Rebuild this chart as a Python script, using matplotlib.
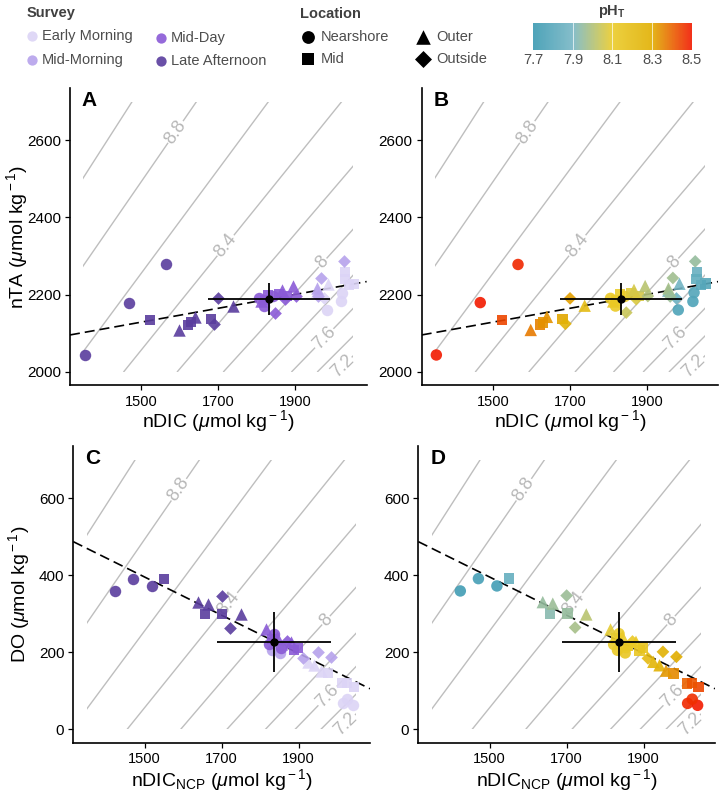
import numpy as np
import matplotlib
matplotlib.use('Agg')
import matplotlib.pyplot as plt
from matplotlib.colors import LinearSegmentedColormap, Normalize
from matplotlib.patches import Rectangle

plt.rcParams['font.family'] = ['Liberation Sans', 'DejaVu Sans']
plt.rcParams['mathtext.fontset'] = 'custom'
plt.rcParams['mathtext.rm'] = 'Liberation Sans'
plt.rcParams['mathtext.it'] = 'Liberation Sans:italic'
plt.rcParams['mathtext.bf'] = 'Liberation Sans:bold'

# survey colours / location shapes
surveys = ['Early Morning', 'Mid-Morning', 'Mid-Day', 'Late Afternoon']
survey_colors = ['#DCD4F6', '#B6A2EC', '#8A5AD6', '#5A3D9E']
locations = ['Nearshore', 'Mid', 'Outer', 'Outside']
loc_markers = ['o', 's', '^', 'D']
loc_sizes = [68, 58, 80, 42]

# pH colour scale
ph_ticks = [7.7, 7.9, 8.1, 8.3, 8.5]
ph_colors = ['#3B9AB2', '#78B7C5', '#EBCC2A', '#E1AF00', '#F21A00']

# panels A/B: survey, location, nDIC, nTA, pH
top_survey = [3, 3, 3, 3, 3, 3, 3, 3, 3, 3, 3, 3,
              2, 2, 2, 2, 2, 2, 2, 2, 2, 2, 2, 2, 2,
              1, 1, 1, 1,
              0, 0, 0, 0, 0, 0, 0, 0, 0, 0]
top_loc = [0, 0, 0, 1, 1, 1, 2, 2, 2, 3, 3, 1,
           0, 0, 0, 1, 1, 1, 2, 2, 2, 3, 3, 3, 1,
           3, 3, 2, 3,
           0, 0, 0, 1, 1, 1, 2, 2, 3, 1]
top_ndic = [1353, 1467, 1565, 1523, 1622, 1680, 1598, 1640, 1738, 1688, 1700, 1630,
            1805, 1818, 1842, 1830, 1858, 1878, 1812, 1866, 1895, 1846, 1902, 1872, 1820,
            1967, 2025, 1955, 1960,
            1981, 2019, 2022, 2030, 2040, 2052, 1984, 1955, 1975, 2028]
top_nta = [2043, 2179, 2278, 2134, 2122, 2136, 2108, 2142, 2171, 2124, 2190, 2128,
           2190, 2170, 2195, 2200, 2202, 2196, 2182, 2212, 2222, 2153, 2196, 2188, 2185,
           2243, 2286, 2218, 2195,
           2160, 2182, 2205, 2258, 2225, 2228, 2228, 2210, 2190, 2240]
top_ph = [8.50, 8.50, 8.48, 8.44, 8.36, 8.31, 8.37, 8.34, 8.21, 8.27, 8.32, 8.34,
          8.13, 8.12, 8.11, 8.10, 8.08, 8.06, 8.13, 8.06, 8.01, 8.04, 8.00, 8.07, 8.11,
          7.97, 7.95, 7.98, 7.96,
          7.76, 7.76, 7.78, 7.85, 7.80, 7.79, 7.88, 7.90, 7.86, 7.83]

# panels C/D: survey, location, nDIC_NCP, DO, colour value
bot_survey = [3, 3, 3, 3, 3, 3, 3, 3, 3, 3, 3,
              2, 2, 2, 2, 2, 2, 2, 2, 2, 2,
              1, 1, 1, 1, 1, 1,
              0, 0, 0, 0, 0, 0, 0, 0, 0, 0]
bot_loc = [0, 0, 0, 1, 1, 1, 2, 2, 2, 3, 3,
           2, 0, 2, 1, 0, 1, 3, 1, 0, 2,
           0, 0, 3, 3, 3, 1,
           2, 2, 1, 1, 1, 1, 0, 0, 0, 2]
bot_dic = [1424, 1471, 1519, 1550, 1657, 1702, 1638, 1664, 1751, 1700, 1722,
           1814, 1836, 1880, 1889, 1854, 1830, 1870, 1898, 1822, 1845,
           1832, 1852, 1950, 1985, 1911, 1860,
           1941, 1958, 1977, 2012, 2043, 2025, 2014, 2040, 2026, 1925]
bot_do = [359, 391, 372, 391, 300, 300, 330, 326, 298, 347, 264,
          259, 248, 227, 205, 212, 235, 228, 212, 220, 240,
          205, 198, 201, 188, 184, 215,
          166, 152, 145, 119, 110, 120, 67, 62, 78, 175]
bot_ph = [7.72, 7.74, 7.73, 7.84, 7.93, 7.95, 7.95, 7.96, 8.01, 7.96, 7.98,
          8.09, 8.10, 8.13, 8.14, 8.12, 8.10, 8.13, 8.15, 8.10, 8.11,
          8.12, 8.14, 8.28, 8.30, 8.22, 8.15,
          8.28, 8.33, 8.35, 8.40, 8.44, 8.42, 8.48, 8.50, 8.47, 8.26]

# means +/- sd
top_mean = (1832, 2188)
top_err = (158, 41)
bot_mean = (1836, 227)
bot_err = (147, 78)

# regression lines: value at nDIC = 1315 and slope
top_fit = (2095, 0.18)
bot_fit = (487, -0.496)

# pH isolines over the nDIC 1350-2050 grid (base of grid = nTA 2000 / DO 0)
iso_ph = [9.0, 8.8, 8.6, 8.4, 8.2, 8.0, 7.8, 7.6, 7.4, 7.2]
iso_dic0 = [1027, 1160, 1311, 1455, 1594, 1714, 1814, 1891, 1958, 2009]
iso_slope = [1.56, 1.45, 1.35, 1.24, 1.17, 1.10, 1.06, 1.03, 1.00, 0.99]
iso_label_pos = {8.8: 1589, 8.4: 1719, 8.0: 1971, 7.6: 1975, 7.2: 2022}
grid_dic = (1350, 2050)
grid_span = 700

xlim = (1315, 2085)
cmap = LinearSegmentedColormap.from_list('zissou', ph_colors)
norm = Normalize(7.7, 8.5)
txt_gray = '#4D4D4D'
unit = r'($\mu$mol kg$^{\rm -1}$)'


def draw_isolines(ax, base):
    clip = Rectangle((grid_dic[0], base), grid_dic[1] - grid_dic[0], grid_span,
                     transform=ax.transData)
    for d0, m in zip(iso_dic0, iso_slope):
        x = np.array([d0, d0 + grid_span / m])
        y = base + (x - d0) * m
        ln, = ax.plot(x, y, color='#BEBEBE', lw=1.0, zorder=1)
        ln.set_clip_path(clip)
    for ph, dl in iso_label_pos.items():
        i = iso_ph.index(ph)
        m = iso_slope[i]
        yl = base + (dl - iso_dic0[i]) * m
        p0 = ax.transData.transform((dl, yl))
        p1 = ax.transData.transform((dl + 10, yl + 10 * m))
        ang = np.degrees(np.arctan2(p1[1] - p0[1], p1[0] - p0[0]))
        ax.text(dl, yl, f'{ph:g}', rotation=ang, rotation_mode='anchor',
                ha='center', va='center', color='#B8B8B8', fontsize=13,
                bbox=dict(fc='white', ec='none', pad=0.5), zorder=2)


def draw_panel(ax, xs, ys, surv, locs, colvals, base, ylim, fit, mean, err,
               by_ph, letter):
    ax.set_xlim(*xlim)
    ax.set_ylim(*ylim)
    draw_isolines(ax, base)
    xx = np.array(xlim)
    ax.plot(xx, fit[0] + fit[1] * (xx - 1315), color='black', lw=1.2,
            dashes=(6, 3), zorder=3)
    xs, ys = np.array(xs), np.array(ys)
    surv, locs = np.array(surv), np.array(locs)
    colvals = np.array(colvals)
    for s in [0, 1, 2, 3]:
        for k in range(4):
            sel = (surv == s) & (locs == k)
            if not sel.any():
                continue
            if by_ph:
                c = cmap(norm(colvals[sel]))
            else:
                c = survey_colors[s]
            ax.scatter(xs[sel], ys[sel], s=loc_sizes[k], marker=loc_markers[k],
                       c=c, alpha=0.9, linewidths=0, zorder=4)
    ax.errorbar(mean[0], mean[1], xerr=err[0], yerr=err[1], fmt='o',
                color='black', ms=5, lw=1.3, capsize=0, zorder=5)
    for sp in ['top', 'right']:
        ax.spines[sp].set_visible(False)
    for sp in ['left', 'bottom']:
        ax.spines[sp].set_linewidth(1.2)
    ax.set_xticks([1500, 1700, 1900])
    ax.tick_params(length=3.5, width=0.9, pad=3, labelsize=11, colors='black')
    ax.tick_params(axis='x', pad=3.5, labelsize=10.5)
    ax.text(0.04, 0.99, letter, transform=ax.transAxes, ha='left', va='top',
            fontsize=15, fontweight='bold')


fig = plt.figure(figsize=(7.2, 7.95), dpi=100)
pw, ph_ = 0.412, 0.373
axA = fig.add_axes([0.0972, 0.5157, pw, ph_])
axB = fig.add_axes([0.5857, 0.5157, pw, ph_])
axC = fig.add_axes([0.1018, 0.0658, pw, ph_])
axD = fig.add_axes([0.5810, 0.0658, pw, ph_])

draw_panel(axA, top_ndic, top_nta, top_survey, top_loc, top_ph, 2000,
           (1965, 2735), top_fit, top_mean, top_err, False, 'A')
draw_panel(axB, top_ndic, top_nta, top_survey, top_loc, top_ph, 2000,
           (1965, 2735), top_fit, top_mean, top_err, True, 'B')
draw_panel(axC, bot_dic, bot_do, bot_survey, bot_loc, bot_ph, 0,
           (-35, 735), bot_fit, bot_mean, bot_err, False, 'C')
draw_panel(axD, bot_dic, bot_do, bot_survey, bot_loc, bot_ph, 0,
           (-35, 735), bot_fit, bot_mean, bot_err, True, 'D')

for ax in (axA, axB):
    ax.set_yticks([2000, 2200, 2400, 2600])
    ax.set_xlabel('nDIC ' + unit, fontsize=14)
    ax.xaxis.set_label_coords(0.5, -0.077)
for ax in (axC, axD):
    ax.set_yticks([0, 200, 400, 600])
    ax.set_xlabel(r'nDIC$_{\rm NCP}$ ' + unit, fontsize=14)
    ax.xaxis.set_label_coords(0.5, -0.082)
axA.set_ylabel('nTA ' + unit, fontsize=14)
axA.yaxis.set_label_coords(-0.135, 0.5)
axC.set_ylabel('DO ' + unit, fontsize=14)
axC.yaxis.set_label_coords(-0.14, 0.5)

# legends drawn in a pixel-coordinate overlay
lg = fig.add_axes([0, 0, 1, 1], zorder=10)
lg.set_xlim(0, 720)
lg.set_ylim(795, 0)
lg.axis('off')
lg.patch.set_alpha(0)

lg.text(27, 13, 'Survey', fontsize=10.5, fontweight='bold', color='#404040',
        va='center')
survey_pos = [(32, 36), (32, 60), (161, 38), (161, 61)]
for (x, y), name, c in zip(survey_pos, surveys, survey_colors):
    lg.scatter([x], [y], s=55, color=c, alpha=0.9, linewidths=0)
    lg.text(x + 10, y, name, fontsize=10.5, color=txt_gray, va='center')

lg.text(300, 14, 'Location', fontsize=10.5, fontweight='bold', color='#404040',
        va='center')
loc_pos = [(308, 37), (308, 59), (423, 37), (423, 59)]
for (x, y), name, mk, sz in zip(loc_pos, locations, loc_markers, [85, 85, 110, 75]):
    lg.scatter([x], [y], s=sz, marker=mk, color='black', linewidths=0)
    lg.text(x + 13, y, name, fontsize=10.5, color=txt_gray, va='center')

cb = fig.add_axes([533.3 / 720, 1 - 50 / 795, 158.4 / 720, 27.3 / 795])
grad = np.linspace(ph_ticks[0], ph_ticks[-1], 300).reshape(1, -1)
cb.imshow(grad, aspect='auto', cmap=cmap, norm=norm, alpha=0.9,
          extent=[ph_ticks[0], ph_ticks[-1], 0, 1])
for t in ph_ticks[1:-1]:
    cb.axvline(t, color='white', lw=0.7, alpha=0.7)
cb.set_xticks([])
cb.set_yticks([])
for sp in cb.spines.values():
    sp.set_visible(False)
for t in ph_ticks:
    xpix = 533.3 + (t - ph_ticks[0]) / (ph_ticks[-1] - ph_ticks[0]) * 158.4
    lg.text(xpix, 60, f'{t:.1f}', fontsize=10.5, color=txt_gray, ha='center',
            va='center')
lg.text(612, 12, r'pH$_{\bf T}$', fontsize=10.5, fontweight='bold',
        color='#404040', ha='center', va='center')

fig.savefig('out.png', dpi=100)
